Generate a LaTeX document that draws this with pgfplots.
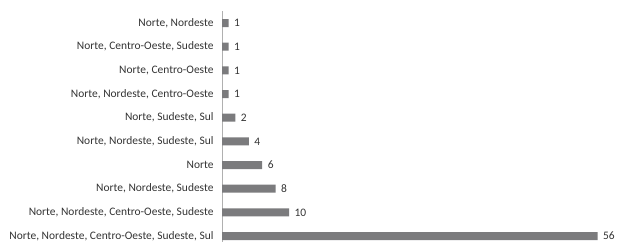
\documentclass[border=0pt]{standalone}
\usepackage{fontspec}
\setmainfont{Carlito}
\usepackage{pgfplots}
\pgfplotsset{compat=1.18}
\definecolor{barc}{HTML}{7B7B7D}
\definecolor{txt}{HTML}{333333}
\definecolor{axc}{HTML}{B0B0B0}
\begin{document}
\begin{tikzpicture}
\path[use as bounding box] (0,0) rectangle (618bp,242bp);
\begin{axis}[
  at={(222bp,0bp)}, anchor=south west,
  scale only axis, width=389bp, height=230.8bp,
  xbar, bar width=8bp,
  xmin=0, xmax=58,
  ymin=-0.5, ymax=9.25, y dir=reverse,
  axis x line=none,
  axis y line*=left,
  y axis line style={draw=axc, line width=0.8pt, -},
  ytick={0,...,9},
  yticklabels={{Norte, Nordeste},{Norte, Centro-Oeste, Sudeste},{Norte, Centro-Oeste},{Norte, Nordeste, Centro-Oeste},{Norte, Sudeste, Sul},{Norte, Nordeste, Sudeste, Sul},{Norte},{Norte, Nordeste, Sudeste},{Norte, Nordeste, Centro-Oeste, Sudeste},{Norte, Nordeste, Centro-Oeste, Sudeste, Sul}},
  major tick length=0pt,
  /pgf/number format/assume math mode=true,
  yticklabel style={font=\fontsize{11.5}{13}\selectfont, text=txt, xshift=-5bp},
  nodes near coords,
  nodes near coords style={font=\fontsize{11.5}{13}\selectfont, text=txt, xshift=2bp},
  clip=false,
]
\addplot[fill=barc, draw=none] coordinates {(1,0) (1,1) (1,2) (1,3) (2,4) (4,5) (6,6) (8,7) (10,8) (56,9)};
\end{axis}
\end{tikzpicture}
\end{document}
